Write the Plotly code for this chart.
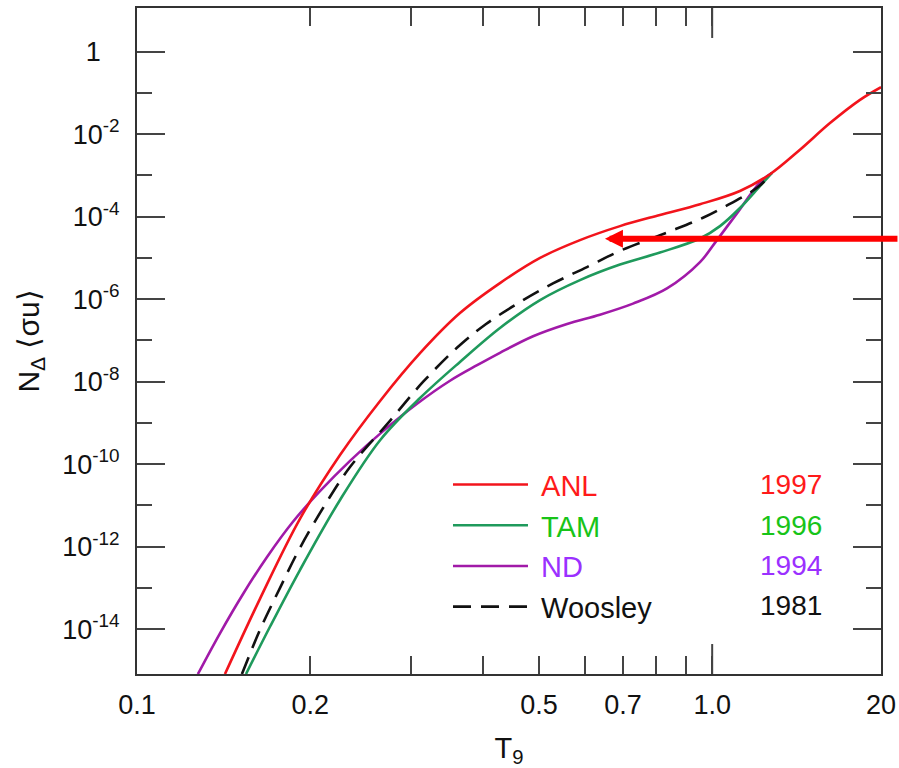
import math
import plotly.graph_objects as go

# ---------------- data ----------------
T_anl = [0.1422, 0.1636, 0.1920, 0.2254, 0.2646, 0.3105, 0.3643, 0.4276, 0.5021, 0.5891,
         0.6914, 0.8113, 0.9524, 1.1176, 1.2604, 1.4210, 1.6026, 1.8072, 1.9660]
R_anl = [8.1e-16, 5.4e-14, 4.7e-12, 1.66e-10, 3.4e-9, 4.9e-8, 4.6e-7, 2.45e-6, 1.0e-5, 2.7e-5,
         5.9e-5, 1.10e-4, 2.0e-4, 4.2e-4, 1.07e-3, 4.2e-3, 1.86e-2, 6.8e-2, 0.138]

T_tam = [0.1547, 0.1702, 0.1920, 0.2254, 0.2646, 0.3105, 0.3643, 0.4276, 0.5021, 0.5891,
         0.6914, 0.8113, 0.9524, 1.0318, 1.1176, 1.2108, 1.2706]
R_tam = [8.1e-16, 1.12e-14, 2.7e-13, 1.35e-11, 3.8e-10, 4.0e-9, 3.0e-8, 2.0e-7, 9.5e-7, 2.9e-6,
         6.9e-6, 1.35e-5, 2.95e-5, 5.9e-5, 1.62e-4, 5.5e-4, 1.15e-3]

T_nd = [0.1276, 0.1394, 0.1528, 0.1683, 0.1867, 0.2080, 0.2346, 0.2678, 0.3068, 0.3501,
        0.3902, 0.4276, 0.4882, 0.5593, 0.6381, 0.7283, 0.8345, 0.9524, 1.0193, 1.1042,
        1.2108, 1.2706]
R_nd = [8.1e-16, 7.9e-15, 7.0e-14, 5.6e-13, 4.0e-12, 2.2e-11, 1.2e-10, 6.3e-10, 2.9e-9, 1.05e-8,
        2.5e-8, 5.0e-8, 1.26e-7, 2.5e-7, 4.2e-7, 7.8e-7, 1.82e-6, 7.9e-6, 2.7e-5, 1.20e-4,
        6.8e-4, 1.15e-3]

T_woo = [0.1522, 0.1636, 0.1773, 0.1920, 0.2148, 0.2346, 0.2753, 0.3142, 0.3599, 0.4045,
         0.4634, 0.5287, 0.6058, 0.6914, 0.8444, 0.9638, 1.0442, 1.1964, 1.2604]
R_woo = [8.1e-16, 9.5e-15, 1.0e-13, 9.3e-13, 1.35e-11, 8.5e-11, 1.12e-9, 9.8e-9, 6.6e-8, 2.5e-7,
         8.5e-7, 2.4e-6, 6.0e-6, 1.48e-5, 4.4e-5, 9.4e-5, 1.66e-4, 5.0e-4, 1.02e-3]

series_names = ["ANL", "TAM", "ND", "Woosley"]
series_years = ["1997", "1996", "1994", "1981"]

x_tick_vals = [0.1, 0.2, 0.5, 0.7, 1.0, 1.966]
x_tick_text = ["0.1", "0.2", "0.5", "0.7", "1.0", "20"]
x_minor_vals = [0.3, 0.4, 0.6, 0.8, 0.9]

y_tick_vals = [1, 1e-2, 1e-4, 1e-6, 1e-8, 1e-10, 1e-12, 1e-14]
y_tick_text = ["1\u2002\u2009", "10<sup>-2</sup>", "10<sup>-4</sup>", "10<sup>-6</sup>",
               "10<sup>-8</sup>", "10<sup>-10</sup>", "10<sup>-12</sup>", "10<sup>-14</sup>"]
y_minor_vals = [1e-1, 1e-3, 1e-5, 1e-7, 1e-9, 1e-11, 1e-13]

arrow_T = 0.651
arrow_R = 2.9e-5

# ---------------- styles ----------------
FONT = "Liberation Sans, Arial, Helvetica, sans-serif"
c_red = "#f2141c"
c_green = "#1f9a5c"
c_purple = "#a11aa8"
c_black = "#111111"
legend_text_colors = ["#ff1a1a", "#18c418", "#9b30ff", "#111111"]

fig = go.Figure()

def add(T, R, name, color, dash, rank, txtcol):
    fig.add_trace(go.Scatter(
        x=T, y=R, mode="lines",
        line=dict(color=color, width=2.6, dash=dash, shape="spline", smoothing=1.0),
        name=f'<span style="color:{txtcol}">\u00a0{name}</span>',
        legendrank=rank, legendgroup=name,
    ))

add(T_nd, R_nd, series_names[2], c_purple, "solid", 3, legend_text_colors[2])
add(T_tam, R_tam, series_names[1], c_green, "solid", 2, legend_text_colors[1])
add(T_woo, R_woo, series_names[3], c_black, "18px,10px", 4, legend_text_colors[3])
add(T_anl, R_anl, series_names[0], c_red, "solid", 1, legend_text_colors[0])

axis_common = dict(
    showline=True, linecolor="#333333", linewidth=2, mirror="ticks",
    ticks="inside", tickcolor="#444444", tickwidth=2,
    showgrid=False, zeroline=False,
    tickfont=dict(family=FONT, size=27, color="#111111"),
)

fig.update_xaxes(
    type="log", range=[-1.0, 0.2935],
    tickmode="array", tickvals=x_tick_vals, ticktext=x_tick_text,
    ticklen=18, ticklabelstandoff=6,
    minor=dict(tickmode="array", tickvals=x_minor_vals, ticks="inside", ticklen=18,
               tickcolor="#444444", tickwidth=2, showgrid=False),
    title=dict(text="T<sub>9</sub>", font=dict(family=FONT, size=29, color="#111111"), standoff=18),
    **axis_common,
)
fig.update_yaxes(
    type="log", range=[-15.09, 1.06],
    tickmode="array", tickvals=y_tick_vals, ticktext=y_tick_text,
    ticklen=28, ticklabelstandoff=10,
    minor=dict(tickmode="array", tickvals=y_minor_vals, ticks="inside", ticklen=15,
               tickcolor="#444444", tickwidth=2, showgrid=False),
    title=dict(text="N<sub>\u0394</sub> \u27e8\u03c3u\u27e9", font=dict(family=FONT, size=30, color="#111111"), standoff=14),
    **axis_common,
)

# longer tick at T9 = 1.0 (bottom and top)
for y0, y1 in [(0, 0.045), (0.955, 1.0)]:
    fig.add_shape(type="line", xref="x", yref="paper", x0=1.0, x1=1.0, y0=y0, y1=y1,
                  line=dict(color="#444444", width=2))

# year column of the legend
for i, (yr, col) in enumerate(zip(series_years, legend_text_colors)):
    fig.add_annotation(xref="paper", yref="paper", x=0.924, y=0.2838 - i * 0.0601,
                       xanchor="right", yanchor="middle", showarrow=False,
                       text=yr, font=dict(family=FONT, size=28, color=col))

# red arrow
fig.add_annotation(xref="x", yref="y", x=math.log10(arrow_T), y=math.log10(arrow_R),
                   ax=294, ay=0, text="", showarrow=True, arrowhead=2, arrowsize=0.6,
                   arrowwidth=6, arrowcolor="#ff0000", standoff=0)

fig.update_layout(
    width=899, height=768,
    paper_bgcolor="white", plot_bgcolor="white",
    margin=dict(l=137, r=18, t=8, b=94, autoexpand=False),
    showlegend=True,
    legend=dict(x=0.418, y=0.3225, xanchor="left", yanchor="top",
                bgcolor="rgba(0,0,0,0)", borderwidth=0, itemwidth=75,
                tracegroupgap=0, traceorder="grouped",
                font=dict(family=FONT, size=29, color="#111111")),
    font=dict(family=FONT),
)

fig.write_html("out.html", config={"displayModeBar": False},
               post_script="document.body.style.margin='0px';")
